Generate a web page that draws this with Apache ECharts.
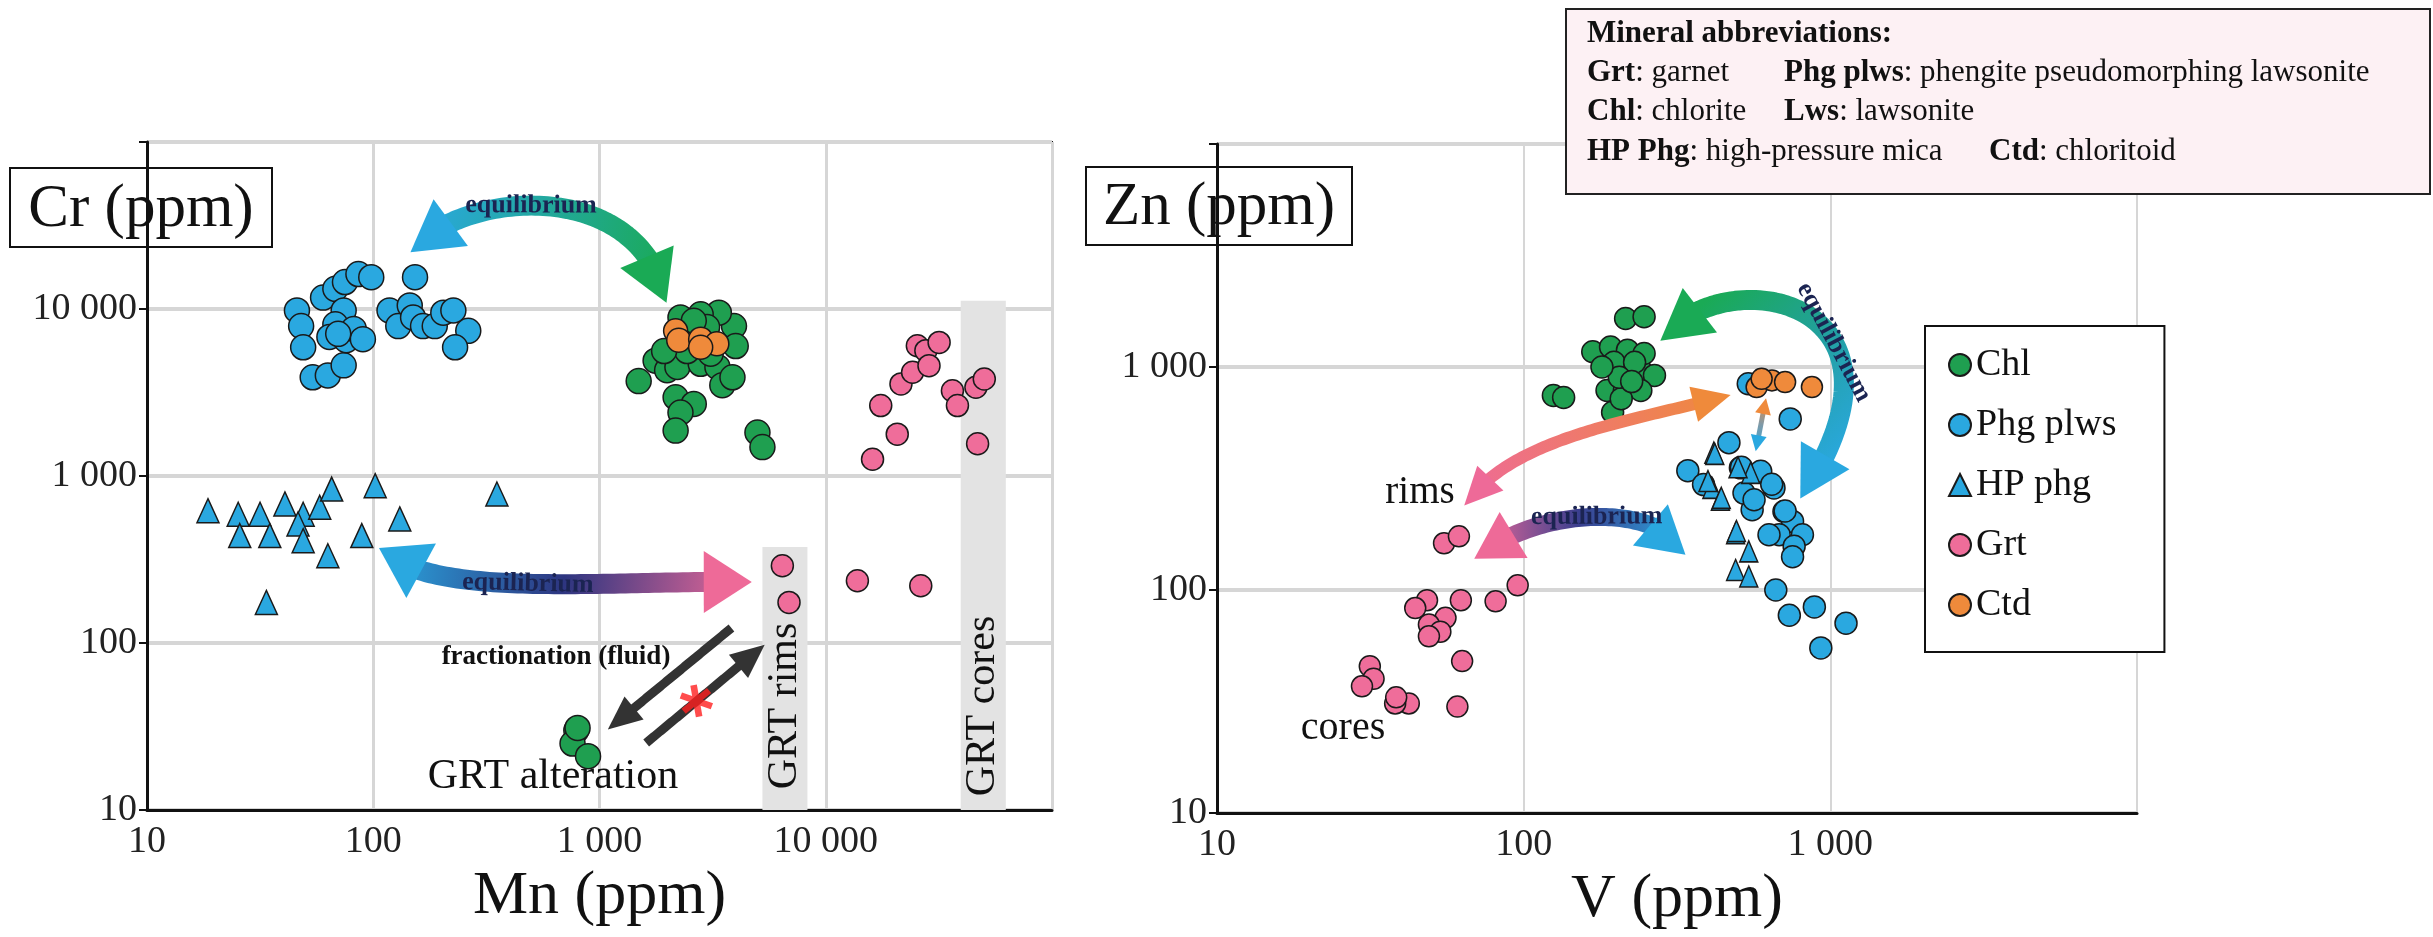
<!DOCTYPE html>
<html>
<head>
<meta charset="utf-8">
<title>Cr-Mn and Zn-V</title>
<script src="https://cdn.jsdelivr.net/npm/echarts@6/dist/echarts.min.js"></script>
<style>
  html, body { margin: 0; padding: 0; background: #fff; }
  #main { width: 2433px; height: 937px; }
</style>
</head>
<body>
<div id="main"></div>
<script>
// ---- data (ppm) ----
// left panel: [Mn, Cr]
const leftPhg = [[46, 9800], [48, 7900], [49, 5900], [54, 3900], [63, 4000], [74, 4600], [60, 11700], [68, 13200], [75, 14500], [86, 16200], [98, 15500], [74, 9800], [68, 8100], [64, 6800], [76, 6500], [82, 7600], [90, 6600], [70, 7100], [153, 15500], [118, 9800], [129, 7900], [145, 10500], [150, 8900], [166, 7900], [187, 7900], [204, 9500], [226, 9800], [263, 7400], [230, 5900]]
const leftHP = [[18.6, 620], [25.3, 590], [31.6, 590], [40.7, 680], [49, 590], [58, 650], [65.5, 835], [102, 875], [131, 553], [352, 780], [25.7, 440], [34.9, 440], [46.5, 516], [49, 410], [63, 333], [89, 440], [33.7, 175]]
const leftChl = [[1490, 3700], [2170, 2960], [2610, 2700], [2280, 2400], [2170, 1870], [4990, 1820], [5250, 1490], [1770, 4900], [1990, 4300], [2210, 4500], [2800, 4700], [3320, 4500], [3490, 3500], [3870, 3900], [3930, 7900], [4000, 6000], [3370, 9500], [2800, 9300], [2280, 8900], [2440, 5600], [3100, 5400], [2990, 7800], [1930, 5600], [2610, 8500], [790, 30], [760, 25], [890, 21], [800, 31]]
const leftCtd = [[2170, 7400], [2240, 6500], [2800, 6600], [3300, 6200], [2800, 5900]]
const leftGrt = [[16100, 1260], [17500, 2640], [20700, 1780], [21500, 3560], [24200, 4180], [25400, 6030], [27700, 5630], [28600, 4580], [31700, 6310], [36300, 3240], [38200, 2640], [46100, 3400], [50200, 3810], [46900, 1560], [6430, 290], [6880, 175], [13800, 236], [26300, 220]]
const leftStar = [[2680, 45]]
// grey bands: [Mn from, Mn to, Cr top]
const bandRanges = [[5250, 8300, 376], [39500, 62500, 11200]]
const bandLabels = ['GRT rims', 'GRT cores']

// right panel: [V, Zn]
const rightChl = [[125, 745], [135, 730], [215, 1650], [247, 1680], [168, 1170], [192, 1230], [218, 1190], [197, 1050], [241, 966], [267, 917], [247, 1150], [187, 785], [213, 785], [241, 785], [195, 627], [208, 720], [230, 1050], [205, 900], [225, 860], [180, 1000]]
const rightCtd = [[575, 813], [645, 871], [712, 856], [871, 813], [597, 885]]
const rightPhg = [[540, 841], [740, 585], [467, 458], [343, 343], [593, 341], [655, 287], [556, 229], [706, 225], [753, 203], [811, 177], [681, 177], [631, 177], [762, 157], [753, 141], [664, 100], [735, 77], [887, 84], [1125, 71], [931, 55], [509, 353], [386, 297], [523, 272], [564, 254], [513, 355], [644, 298], [712, 226]]
const rightHP = [[417, 413], [411, 287], [438, 254], [550, 335], [491, 180], [542, 149], [491, 123], [542, 115], [420, 408], [399, 308], [441, 259], [500, 355], [494, 184]]
const rightGrt = [[55, 162], [61.5, 174], [95.6, 105], [81, 89], [62.4, 90], [48.4, 90], [44.3, 83], [55.6, 75], [49.1, 70], [53.5, 65], [49.1, 62], [63, 48], [60.8, 30], [42.2, 31], [38.1, 31], [31.5, 45.5], [32.4, 40], [29.7, 37], [38.4, 33]]

// arrow paths in data units (2 points = straight, 4 points = cubic)
const leftArrowPaths = [
  [[146, 21900], [243, 51600], [1517, 63400], [1977, 10900]],
  [[106, 371], [179, 181], [1009, 238], [4710, 232]],
  [[3830, 123], [1088, 30.3]],
  [[1608, 25.2], [5370, 97.7]]
]
const rightArrowPaths = [
  [[279, 1310], [446, 3100], [2180, 2050], [798, 257]],
  [[64, 239], [91.4, 479], [209, 560], [473, 748]],
  [[617, 725], [571, 419]],
  [[69, 138], [115, 244], [283, 244], [337, 144]]
]

const legendNames = ['Chl', 'Phg plws', 'HP phg', 'Grt', 'Ctd']

// ---- styles ----
const FONT = "'Liberation Serif', 'Times New Roman', serif"
const C = {
  chl: '#1f9f50',
  phg: '#2aa8e0',
  grt: '#ef6d9a',
  ctd: '#ef8a3b'
}
const leftArrowStyle = [
  { colors: ['#2aa8e0', '#22a89a', '#1aaa55'], width: 20, head: [50, 58], heads: [1, 1], label: 'equilibrium', t: 0.45 },
  { colors: ['#2aa8e0', '#2d3580', '#ee6a98'], width: 20, head: [48, 62], heads: [1, 1], label: 'equilibrium', t: 0.5 },
  { colors: ['#333', '#333', '#333'], width: 9, head: [34, 30], heads: [0, 1] },
  { colors: ['#333', '#333', '#333'], width: 9, head: [34, 30], heads: [0, 1] }
]
const rightArrowStyle = [
  { colors: ['#1aaa55', '#22a0a0', '#2aa8e0'], width: 20, head: [50, 56], heads: [1, 1], label: 'equilibrium', t: 0.64 },
  { colors: ['#ee6a98', '#ef7a6a', '#ef8a3b'], width: 12, head: [38, 36], heads: [1, 1] },
  { colors: ['#ef8a3b', '#7f9aa8', '#2aa8e0'], width: 5, head: [16, 16], heads: [1, 1] },
  { colors: ['#ee6a98', '#3a3f8f', '#2aa8e0'], width: 18, head: [46, 54], heads: [1, 1], label: 'equilibrium', t: 0.5 }
]

function fmt(max) {
  return function (v) {
    v = Math.round(v)
    if (v >= max) return ''
    return v >= 1000 ? String(v).replace(/\B(?=(\d{3})+(?!\d))/g, ' ') : String(v)
  }
}

function bez(P, t) {
  if (P.length === 2) {
    return [P[0][0] + (P[1][0] - P[0][0]) * t, P[0][1] + (P[1][1] - P[0][1]) * t]
  }
  const u = 1 - t
  const a = u * u * u, b = 3 * u * u * t, c = 3 * u * t * t, d = t * t * t
  return [a * P[0][0] + b * P[1][0] + c * P[2][0] + d * P[3][0],
    a * P[0][1] + b * P[1][1] + c * P[2][1] + d * P[3][1]]
}

function arrowItem(path, st, api) {
  const P = path.map(function (q) { return api.coord(q) })
  const N = 80
  const pts = []
  const len = [0]
  for (let i = 0; i <= N; i++) {
    pts.push(bez(P, i / N))
    if (i > 0) len.push(len[i - 1] + Math.hypot(pts[i][0] - pts[i - 1][0], pts[i][1] - pts[i - 1][1]))
  }
  const L = len[N]
  const at = function (s) {
    for (let i = 1; i <= N; i++) {
      if (len[i] >= s) {
        const f = (s - len[i - 1]) / ((len[i] - len[i - 1]) || 1)
        return [pts[i - 1][0] + (pts[i][0] - pts[i - 1][0]) * f, pts[i - 1][1] + (pts[i][1] - pts[i - 1][1]) * f]
      }
    }
    return pts[N]
  }
  const hl = st.head[0], hw = st.head[1]
  const s0 = st.heads[0] ? hl * 0.85 : 0
  const s1 = L - (st.heads[1] ? hl * 0.85 : 0)
  const body = [at(s0)]
  for (let i = 0; i <= N; i++) if (len[i] > s0 && len[i] < s1) body.push(pts[i])
  body.push(at(s1))
  const grad = new echarts.graphic.LinearGradient(P[0][0], P[0][1], P[P.length - 1][0], P[P.length - 1][1], [
    { offset: 0, color: st.colors[0] },
    { offset: 0.5, color: st.colors[1] },
    { offset: 1, color: st.colors[2] }
  ], true)
  const children = [{
    type: 'polyline',
    shape: { points: body },
    style: { stroke: grad, lineWidth: st.width, fill: null, lineCap: 'butt', lineJoin: 'round' }
  }]
  const head = function (tip, base, color) {
    let dx = tip[0] - base[0], dy = tip[1] - base[1]
    const d = Math.hypot(dx, dy) || 1
    dx /= d; dy /= d
    const bx = tip[0] - dx * hl, by = tip[1] - dy * hl
    children.push({
      type: 'polygon',
      shape: { points: [tip, [bx - dy * hw / 2, by + dx * hw / 2], [bx + dy * hw / 2, by - dx * hw / 2]] },
      style: { fill: color }
    })
  }
  if (st.heads[0]) head(pts[0], at(hl), st.colors[0])
  if (st.heads[1]) head(pts[N], at(L - hl), st.colors[2])
  if (st.label) {
    const p = bez(P, st.t)
    const q = bez(P, Math.min(1, st.t + 0.01))
    let r = -Math.atan2(q[1] - p[1], q[0] - p[0])
    if (r > Math.PI / 2) r -= Math.PI
    if (r < -Math.PI / 2) r += Math.PI
    children.push({
      type: 'text',
      x: p[0], y: p[1], rotation: r,
      style: { text: st.label, fill: '#1b2452', font: 'bold 26px ' + FONT, align: 'center', verticalAlign: 'middle' }
    })
  }
  return { type: 'group', children: children }
}

function scatter(name, data, gi, color, symbol, size) {
  return {
    name: name,
    type: 'scatter',
    xAxisIndex: gi,
    yAxisIndex: gi,
    data: data,
    symbol: symbol,
    symbolSize: size,
    z: 3,
    itemStyle: { color: color, borderColor: '#1a1a1a', borderWidth: 1.5, opacity: 1 }
  }
}

function logAxis(gi, min, max, name, isY, grid) {
  return {
    type: 'log',
    logBase: 10,
    gridIndex: gi,
    min: min,
    max: max,
    name: isY ? '' : name,
    nameLocation: 'middle',
    nameGap: 56,
    nameTextStyle: { fontFamily: FONT, fontSize: 62, color: '#111' },
    axisLine: { show: true, onZero: false, lineStyle: { color: '#111', width: 3 } },
    axisTick: { show: isY, length: 8, lineStyle: { color: '#111', width: 2 } },
    minorTick: { show: false },
    axisLabel: { formatter: fmt(max), fontFamily: FONT, fontSize: 38, color: '#222', margin: isY ? 10 : 13 },
    splitLine: { show: true, lineStyle: { color: '#d6d6d6', width: isY ? 4 : (grid ? 2 : 3) } }
  }
}

const chart = echarts.init(document.getElementById('main'))

const abbrText = function (x, y, text) {
  return {
    type: 'text', x: x, y: y, z: 101,
    style: {
      text: text, fill: '#111', fontFamily: FONT, fontSize: 31, verticalAlign: 'middle',
      rich: { b: { fontFamily: FONT, fontSize: 31, fontWeight: 'bold', fill: '#111' } }
    }
  }
}
const plainText = function (x, y, text, size, weight) {
  return {
    type: 'text', x: x, y: y, z: 50,
    style: { text: text, fill: '#111', fontFamily: FONT, fontSize: size, fontWeight: weight || 'normal', align: 'center', verticalAlign: 'middle' }
  }
}
const titleBox = function (x, y, w, h, text) {
  return {
    type: 'group', z: 100,
    children: [
      { type: 'rect', shape: { x: x, y: y, width: w, height: h }, style: { fill: '#fff', stroke: '#111', lineWidth: 2 } },
      { type: 'text', x: x + w / 2, y: y + h / 2 + 2, style: { text: text, fill: '#111', fontFamily: FONT, fontSize: 61, align: 'center', verticalAlign: 'middle' } }
    ]
  }
}

chart.setOption({
  backgroundColor: '#fff',
  animation: false,
  grid: [
    { left: 147, top: 142, width: 905, height: 668, show: true, borderColor: '#111', borderWidth: 2, backgroundColor: 'transparent' },
    { left: 1217, top: 144, width: 920, height: 669, show: true, borderColor: '#111', borderWidth: 2, backgroundColor: 'transparent' }
  ],
  xAxis: [
    logAxis(0, 10, 100000, 'Mn (ppm)', false, false),
    logAxis(1, 10, 10000, 'V (ppm)', false, true)
  ],
  yAxis: [
    logAxis(0, 10, 100000, 'Cr (ppm)', true, false),
    logAxis(1, 10, 10000, 'Zn (ppm)', true, true)
  ],
  legend: {
    orient: 'vertical',
    left: 1925,
    top: 326,
    padding: [20, 48, 28, 23],
    itemGap: 22,
    itemWidth: 22,
    itemHeight: 22,
    backgroundColor: '#fff',
    borderColor: '#111',
    borderWidth: 2,
    selectedMode: false,
    z: 60,
    textStyle: { fontFamily: FONT, fontSize: 38, lineHeight: 38, color: '#111' },
    data: legendNames
  },
  graphic: [
    titleBox(10, 168, 262, 79, 'Cr (ppm)'),
    titleBox(1086, 167, 266, 78, 'Zn (ppm)'),
    { type: 'rect', z: 100, shape: { x: 1566, y: 9, width: 864, height: 185 }, style: { fill: '#fdf1f4', stroke: '#222', lineWidth: 2 } },
    abbrText(1587, 34, '{b|Mineral abbreviations:}'),
    abbrText(1587, 73, '{b|Grt}: garnet'),
    abbrText(1784, 73, '{b|Phg plws}: phengite pseudomorphing lawsonite'),
    abbrText(1587, 112, '{b|Chl}: chlorite'),
    abbrText(1784, 112, '{b|Lws}: lawsonite'),
    abbrText(1587, 152, '{b|HP Phg}: high-pressure mica'),
    abbrText(1989, 152, '{b|Ctd}: chloritoid'),
    plainText(556, 657, 'fractionation (fluid)', 27, 'bold'),
    plainText(553, 777, 'GRT alteration', 42),
    plainText(1420, 493, 'rims', 39),
    plainText(1343, 728, 'cores', 40)
  ],
  series: [
    {
      type: 'custom',
      xAxisIndex: 0,
      yAxisIndex: 0,
      z: 1,
      silent: true,
      data: bandRanges.map(function (b, i) { return [b[0], b[2], b[1], i] }),
      renderItem: function (params, api) {
        const p0 = api.coord([api.value(0), 10])
        const p1 = api.coord([api.value(2), api.value(1)])
        return {
          type: 'group',
          children: [
            { type: 'rect', shape: { x: p0[0], y: p1[1], width: p1[0] - p0[0], height: p0[1] - p1[1] }, style: { fill: '#e3e3e3' } },
            {
              type: 'text', x: (p0[0] + p1[0]) / 2, y: p0[1] - 104, rotation: Math.PI / 2,
              style: { text: bandLabels[api.value(3)], fill: '#111', fontFamily: FONT, fontSize: 42, align: 'center', verticalAlign: 'middle' }
            }
          ]
        }
      }
    },
    scatter('Phg plws', leftPhg, 0, C.phg, 'circle', 25),
    scatter('HP phg', leftHP, 0, C.phg, 'triangle', [22, 24]),
    scatter('Chl', leftChl, 0, C.chl, 'circle', 25),
    scatter('Ctd', leftCtd, 0, C.ctd, 'circle', 24),
    scatter('Grt', leftGrt, 0, C.grt, 'circle', 22),
    scatter('Chl', rightChl, 1, C.chl, 'circle', 22),
    scatter('Phg plws', rightPhg, 1, C.phg, 'circle', 22),
    scatter('HP phg', rightHP, 1, C.phg, 'triangle', [18, 21]),
    scatter('Grt', rightGrt, 1, C.grt, 'circle', 21),
    scatter('Ctd', rightCtd, 1, C.ctd, 'circle', 21),
    {
      type: 'custom',
      xAxisIndex: 0,
      yAxisIndex: 0,
      z: 4,
      silent: true,
      data: leftArrowPaths.map(function (p, i) { return [p[0][0], p[0][1], i] }),
      renderItem: function (params, api) {
        const i = api.value(2)
        return arrowItem(leftArrowPaths[i], leftArrowStyle[i], api)
      }
    },
    {
      type: 'custom',
      xAxisIndex: 1,
      yAxisIndex: 1,
      z: 4,
      silent: true,
      data: rightArrowPaths.map(function (p, i) { return [p[0][0], p[0][1], i] }),
      renderItem: function (params, api) {
        const i = api.value(2)
        return arrowItem(rightArrowPaths[i], rightArrowStyle[i], api)
      }
    },
    {
      type: 'scatter',
      xAxisIndex: 0,
      yAxisIndex: 0,
      z: 5,
      data: leftStar,
      symbol: 'path://M-2,-10L2,-10L2,10L-2,10ZM-7.66,-6.73L9.66,3.27L7.66,6.73L-9.66,-3.27ZM9.66,-3.27L-7.66,6.73L-9.66,3.27L7.66,-6.73Z',
      symbolSize: 32,
      symbolRotate: 10,
      itemStyle: { color: '#ff1f1f' }
    }
  ]
})
</script>
</body>
</html>
